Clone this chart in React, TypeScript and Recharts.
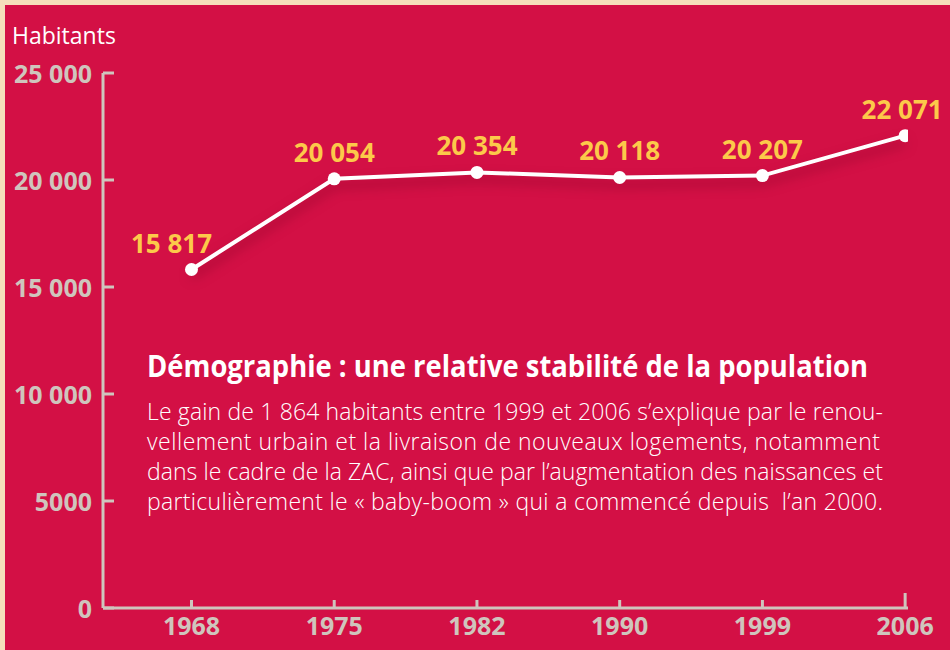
import React from 'react';
import { LineChart, Line, XAxis, YAxis, LabelList } from 'recharts';

const years = ['1968', '1975', '1982', '1990', '1999', '2006'];
const population = [15817, 20054, 20354, 20118, 20207, 22071];
const yTicks = [0, 5000, 10000, 15000, 20000, 25000];
const yTickLabels = ['0', '5000', '10 000', '15 000', '20 000', '25 000'];

const title = 'Démographie : une relative stabilité de la population';
const bodyLines = [
  'Le gain de 1 864 habitants entre 1999 et 2006 s’explique par le renou-',
  'vellement urbain et la livraison de nouveaux logements, notamment',
  'dans le cadre de la ZAC, ainsi que par l’augmentation des naissances et',
  'particulièrement le « baby-boom » qui a commencé depuis  l’an 2000.',
];

const data = years.map((year, i) => ({ idx: i, year, value: population[i] }));

const CRIMSON = '#D31045';
const BEIGE = '#F6DEBB';
const AXIS = '#CFC5BD';
const YELLOW = '#FCC94A';
const FONT = '"Open Sans", "DejaVu Sans", sans-serif';

const fmt = (v: number) => String(v).replace(/\B(?=(\d{3})+(?!\d))/g, ' ');

const YTick = ({ x, y, payload }: any) => {
  const i = yTicks.indexOf(payload.value);
  return (
    <g>
      <line x1={x} x2={x + 11} y1={y} y2={y} stroke={AXIS} strokeWidth={3} />
      <text
        x={x - 11}
        y={y}
        textAnchor="end"
        dominantBaseline="central"
        fill={AXIS}
        fontFamily={FONT}
        fontWeight={700}
        fontSize={25}
      >
        {yTickLabels[i]}
      </text>
    </g>
  );
};

const XTick = ({ x, y, payload }: any) => {
  const last = payload.value === years.length - 1;
  return (
    <g>
      <line x1={x} x2={x} y1={y} y2={y - (last ? 15 : 8)} stroke={AXIS} strokeWidth={3} />
      <text
        x={x}
        y={y + 17}
        textAnchor="middle"
        dominantBaseline="central"
        fill={AXIS}
        fontFamily={FONT}
        fontWeight={700}
        fontSize={25}
      >
        {years[payload.value]}
      </text>
    </g>
  );
};

const ValueLabel = ({ x, y, value, index }: any) => (
  <text
    x={x + (index === 0 ? -20 : index === years.length - 1 ? -3 : 0)}
    y={y - 27}
    textAnchor="middle"
    dominantBaseline="central"
    fill={YELLOW}
    fontFamily={FONT}
    fontWeight={700}
    fontSize={26}
  >
    {fmt(value)}
  </text>
);

const App = () => {
  return (
    <div
      style={{
        position: 'absolute',
        left: 0,
        top: 0,
        width: 950,
        height: 650,
        background: BEIGE,
        overflow: 'hidden',
      }}
    >
      <style>{`.shadow-line { filter: drop-shadow(0px 7px 6px rgba(110, 0, 30, 0.55)); }`}</style>
      <div style={{ position: 'absolute', left: 5, top: 5, right: 0, bottom: 0, background: CRIMSON }} />

      <div style={{ position: 'absolute', left: 0, top: 0 }}>
        <LineChart width={950} height={650} data={data} margin={{ top: 73, right: 42, bottom: 0, left: 0 }}>
          <XAxis
            dataKey="idx"
            type="number"
            domain={[-0.62, 5.02]}
            ticks={[0, 1, 2, 3, 4, 5]}
            allowDataOverflow
            height={42}
            tickSize={0}
            tickMargin={0}
            tickLine={false}
            axisLine={{ stroke: AXIS, strokeWidth: 3 }}
            tick={<XTick />}
            interval={0}
          />
          <YAxis
            domain={[0, 25000]}
            ticks={yTicks}
            width={103}
            tickSize={0}
            tickMargin={0}
            tickLine={false}
            axisLine={{ stroke: AXIS, strokeWidth: 3 }}
            tick={<YTick />}
            interval={0}
          />
          <Line
            dataKey="value"
            type="linear"
            className="shadow-line"
            stroke="#FFFFFF"
            strokeWidth={4}
            dot={{ r: 6.5, fill: '#FFFFFF', stroke: 'none' }}
            activeDot={false}
            isAnimationActive={false}
          >
            <LabelList dataKey="value" content={<ValueLabel />} />
          </Line>
        </LineChart>
      </div>

      <div
        style={{
          position: 'absolute',
          left: 12,
          top: 20,
          color: '#FFFFFF',
          fontFamily: FONT,
          fontSize: 23,
          lineHeight: '30px',
        }}
      >
        Habitants
      </div>

      <svg width={950} height={650} style={{ position: 'absolute', left: 0, top: 0, pointerEvents: 'none' }}>
        <text
          x={147}
          y={377}
          textLength={721}
          lengthAdjust="spacingAndGlyphs"
          fill="#FFFFFF"
          fontFamily={FONT}
          fontWeight={700}
          fontSize={30}
        >
          {title}
        </text>
        {bodyLines.map((line, i) => (
          <text
            key={line}
            x={147}
            y={420 + i * 30}
            textLength={i === 1 ? 733 : 736}
            lengthAdjust="spacing"
            fill="#FFFFFF"
            fontFamily={FONT}
            fontWeight={300}
            fontSize={23}
            style={{ whiteSpace: 'pre' }}
          >
            {line}
          </text>
        ))}
      </svg>
    </div>
  );
};

export default App;
